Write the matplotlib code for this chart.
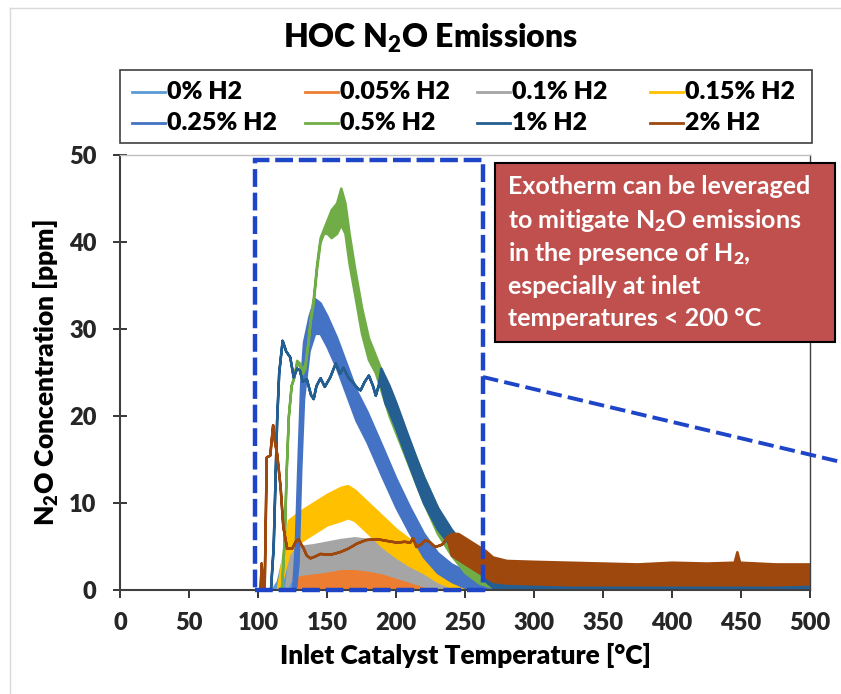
import numpy as np
import matplotlib.pyplot as plt
from matplotlib.lines import Line2D
from matplotlib.patches import Rectangle

plt.rcParams['font.family'] = ['Lato', 'DejaVu Sans']
plt.rcParams['font.weight'] = 'heavy'
plt.rcParams['mathtext.fontset'] = 'custom'
plt.rcParams['mathtext.rm'] = 'Lato:heavy'
plt.rcParams['mathtext.it'] = 'Lato:heavy'
plt.rcParams['mathtext.bf'] = 'Lato:heavy'
plt.rcParams['mathtext.default'] = 'rm'

# values: temperature [C], lower / upper edge of each trace [ppm]
# (where lo == hi the trace is a clean line, otherwise a noisy band)
t_0 = [110, 114, 117, 119, 122, 126, 130, 150, 175, 200, 225, 250, 275, 300, 350, 400, 450, 500]
lo_0 = [0, 0, 0, 0, 0, 0, 0, 0, 0, 0, 0, 0, 0, 0, 0, 0, 0, 0]
hi_0 = [0, 1.0, 3.0, 3.5, 2.5, 2.0, 1.5, 1.2, 1.2, 1.5, 1.8, 2.0, 2.0, 2.0, 2.0, 2.0, 2.0, 2.0]

t_005 = [125, 128, 132, 140, 150, 160, 170, 180, 190, 200, 210, 220, 230, 240, 260, 300, 400, 500]
lo_005 = [0, 0, 0, 0, 0, 0, 0, 0, 0, 0, 0, 0, 0, 0, 0, 0, 0, 0]
hi_005 = [0, 1.5, 2.0, 2.3, 2.4, 2.6, 2.7, 2.5, 2.1, 1.8, 1.4, 1.1, 0.8, 0.7, 0.8, 1.0, 1.0, 1.0]

t_01 = [120, 123, 130, 140, 150, 160, 170, 180, 190, 200, 210, 220, 230, 240, 260, 300, 400, 500]
lo_01 = [0, 1.0, 1.8, 2.0, 2.2, 2.5, 2.5, 2.3, 2.0, 1.5, 1.0, 0.5, 0, 0, 0, 0, 0, 0]
hi_01 = [0, 4.5, 5.0, 5.2, 5.5, 5.8, 6.0, 5.8, 5.3, 4.6, 3.6, 2.6, 1.6, 1.1, 1.0, 1.2, 1.2, 1.2]

t_015 = [114, 118, 122, 126, 130, 140, 150, 160, 165, 170, 180, 190, 200, 210, 220, 230, 240, 250, 260, 300, 400, 500]
lo_015 = [0, 1.5, 4.0, 5.0, 5.5, 6.5, 7.5, 8.0, 8.3, 8.0, 6.5, 5.0, 3.8, 2.8, 2.0, 1.0, 0.3, 0, 0, 0, 0, 0]
hi_015 = [0, 4.0, 8.0, 8.5, 9.0, 10.0, 11.0, 11.8, 12.0, 11.5, 10.0, 8.5, 7.0, 5.8, 4.5, 3.5, 2.5, 1.5, 1.2, 1.3, 1.3, 1.3]

t_025 = [125, 127, 129, 131, 133, 137, 141, 145, 150, 157, 164, 171, 179, 190, 200,
         210, 220, 230, 240, 250, 260, 270, 300, 400, 500]
lo_025 = [0, 0, 3, 14, 22, 27.5, 29.5, 29.5, 28, 25.5, 22.5, 19.5, 17, 13, 9.5,
          6.5, 3.8, 2, 1, 0.3, 0, 0, 0, 0, 0]
hi_025 = [0, 5, 15, 24, 28.5, 31.5, 33.5, 33, 31.5, 29, 26, 23, 20.5, 16.5, 12.8,
          9.5, 6.5, 4.3, 3, 2.2, 2, 1.8, 1.8, 1.8, 1.8]

t_05 = [117, 119, 120.5, 122, 124, 126, 128, 130, 132, 134, 136, 138, 140, 142.5, 145,
        147.5, 150, 153, 157, 160, 163, 166, 170, 175, 180, 185, 190, 195, 200, 210,
        220, 230, 240, 250, 260, 270, 300, 400, 500]
lo_05 = [0, 6, 14, 20, 23.5, 24.5, 26, 25.8, 24.8, 25.5, 28, 31, 33, 37, 40,
         41, 41, 40.5, 41, 42, 41, 37.5, 34, 29.5, 26.5, 25, 22.5, 20, 18, 14,
         10, 6.5, 4, 2, 0.8, 0.3, 0, 0, 0]
hi_05 = [0, 6, 14, 20, 23.5, 24.5, 26.4, 26.1, 25.3, 26, 28.4, 31.5, 33.5, 37.5, 40.5,
         41.5, 42.5, 43.7, 44.5, 46.2, 44.5, 41, 37, 32.5, 29, 27, 25, 23, 20.5, 17,
         13, 9.5, 6.5, 4, 2.5, 2, 2, 2, 2]

t_1 = [109, 111, 113.5, 115, 117.5, 120, 123, 125.5, 128, 130, 132, 135, 138, 140, 142,
       145, 148, 152, 156, 159, 161.5, 165, 169, 172, 174, 177, 180, 183, 185, 187,
       189, 192, 195, 200, 208, 215, 220, 230, 240, 250, 260, 265, 270, 300, 400, 500]
lo_1 = [0, 5, 19.5, 25, 28.7, 27.5, 26.8, 24.5, 25.5, 25.3, 24, 24.3, 22.5, 22, 23.5,
        24.4, 23.4, 24.5, 26.1, 24.9, 25.6, 24.5, 23.8, 23.2, 23, 24, 24.7, 23.5, 22.4, 23.5,
        23.5, 21.5, 20.5, 18.5, 15, 12, 10, 7, 5, 3.5, 2.5, 1, 0.3, 0, 0, 0]
hi_1 = [0, 5, 19.5, 25, 28.7, 27.5, 26.8, 24.5, 25.5, 25.3, 24, 24.3, 22.5, 22, 23.5,
        24.4, 23.4, 24.5, 26.1, 24.9, 25.6, 24.5, 23.8, 23.2, 23, 24, 24.7, 23.5, 22.4, 23.5,
        25.5, 24.5, 23.5, 21.5, 18, 15, 13, 9.5, 7, 5, 4, 3.5, 2.8, 2.8, 2.8, 2.8]

t_2 = [100, 101.5, 102.3, 103.2, 104.5, 106, 108.5, 110.6, 112, 113.5, 116, 118, 120.8, 124.4, 127,
       129, 131, 132.8, 135, 137.7, 141, 145, 152, 159, 165, 171.5, 178, 186, 193, 200.5,
       206, 210, 212, 214.5, 218, 221, 224.6, 228, 232, 234, 236.7,
       240, 245, 250, 255, 260, 265, 270, 280, 300, 325, 350, 375, 400, 425, 445, 447, 449, 475, 500]
lo_2 = [0, 0, 3.1, 0, 0.5, 15.3, 15.5, 19, 17, 15.7, 11.9, 7.3, 4.8, 4.8, 5.6,
        5.9, 5.3, 4.8, 4.0, 3.7, 3.9, 4.2, 4.1, 4.4, 4.8, 5.4, 5.8, 5.9, 5.7, 5.5,
        5.6, 5.5, 6.0, 5.0, 5.3, 5.8, 5.5, 5.0, 5.2, 5.4, 6.1,
        4.0, 3.5, 3.0, 2.5, 2.0, 1.5, 1.0, 0.8, 0.7, 0.6, 0.6, 0.6, 0.6, 0.6, 0.6, 0.6, 0.6, 0.6, 0.7]
hi_2 = [0, 0, 3.1, 0, 0.5, 15.3, 15.5, 19, 17, 15.7, 11.9, 7.3, 4.8, 4.8, 5.6,
        5.9, 5.3, 4.8, 4.0, 3.7, 3.9, 4.2, 4.1, 4.4, 4.8, 5.4, 5.8, 5.9, 5.7, 5.5,
        5.6, 5.5, 6.0, 5.0, 5.3, 5.8, 5.5, 5.0, 5.2, 5.4, 6.1,
        6.5, 6.5, 6.0, 5.5, 5.0, 4.5, 3.8, 3.4, 3.3, 3.2, 3.1, 3.0, 3.2, 3.1, 3.2, 4.4, 3.2, 3.0, 3.0]

labels = ['0% H2', '0.05% H2', '0.1% H2', '0.15% H2', '0.25% H2', '0.5% H2', '1% H2', '2% H2']
colors = ['#5B9BD5', '#ED7D31', '#A5A5A5', '#FFC000', '#4472C4', '#70AD47', '#255E91', '#9E480E']
series = [(t_0, lo_0, hi_0), (t_005, lo_005, hi_005), (t_01, lo_01, hi_01), (t_015, lo_015, hi_015),
          (t_025, lo_025, hi_025), (t_05, lo_05, hi_05), (t_1, lo_1, hi_1), (t_2, lo_2, hi_2)]

W, H = 841, 694
fig = plt.figure(figsize=(W / 100, H / 100), dpi=100)
ax = fig.add_axes([120 / W, 1 - 590 / H, 690 / W, 435 / H])

for (t, lo, hi), c in zip(series, colors):
    ax.fill_between(t, lo, hi, facecolor=c, edgecolor=c, linewidth=1.8)

ax.set_xlim(0, 500)
ax.set_ylim(0, 50)
ax.set_xticks(np.arange(0, 501, 50))
ax.set_yticks(np.arange(0, 51, 10))
ax.tick_params(axis='both', labelsize=17, colors='#262626', width=1.3)
ax.tick_params(axis='y', direction='inout', length=10, pad=12)
ax.tick_params(axis='x', direction='out', length=6, pad=10)
for tl in ax.get_xticklabels() + ax.get_yticklabels():
    tl.set_fontweight('heavy')
for side in ['left', 'bottom']:
    ax.spines[side].set_color('#404040')
    ax.spines[side].set_linewidth(1.5)
ax.spines['right'].set_color('#404040')
ax.spines['right'].set_linewidth(1)
ax.spines['top'].set_color('#BFBFBF')
ax.spines['top'].set_linewidth(1)

ax.set_xlabel('Inlet Catalyst Temperature [°C]', fontsize=19, fontweight='heavy', labelpad=6)
ax.set_ylabel('N$_2$O Concentration [ppm]', fontsize=19, fontweight='heavy', labelpad=6)

fig.text(431 / W, 1 - 38 / H, 'HOC N$_2$O Emissions', ha='center', va='center',
         fontsize=23, fontweight='heavy')

# legend, four equal columns like the original
fig.add_artist(Rectangle((120 / W, 1 - 143 / H), 692 / W, 73 / H, transform=fig.transFigure,
                         fc='white', ec='#404040', lw=1.2))
col_x = [132, 305, 477, 650]
row_y = [92, 123]
for i, (lab, c) in enumerate(zip(labels, colors)):
    x0 = col_x[i % 4]
    y0 = 1 - row_y[i // 4] / H
    fig.add_artist(Line2D([x0 / W, (x0 + 33) / W], [y0, y0], transform=fig.transFigure, color=c, lw=2))
    fig.text((x0 + 35) / W, y0, lab, ha='left', va='center', fontsize=18, fontweight='heavy')

# dashed highlight box and callout line
blue = '#1E44C8'
ax.add_patch(Rectangle((97.8, 0), 263 - 97.8, 49.4, fill=False, ec=blue, lw=3.2,
                       linestyle=(0, (4, 1.3)), clip_on=False, zorder=5))
fig.add_artist(Line2D([483 / W, 1.0], [1 - 377 / H, 1 - 462 / H], transform=fig.transFigure,
                      color=blue, lw=2.8, linestyle=(0, (4, 1.6))))

# red text box
fig.add_artist(Rectangle((495 / W, 1 - 342 / H), 340 / W, 179 / H, transform=fig.transFigure,
                         fc='#C0504D', ec='black', lw=1.5))
box_lines = ['Exotherm can be leveraged', 'to mitigate N$_2$O emissions',
             'in the presence of H$_2$,', 'especially at inlet', 'temperatures < 200 °C']
for k, line in enumerate(box_lines):
    fig.text(508 / W, 1 - (187 + 33 * k) / H, line, ha='left', va='center', fontsize=18,
             fontweight='bold', color='white')

# chart area border
fig.add_artist(Line2D([10 / W, 1.0], [1 - 8 / H, 1 - 8 / H], transform=fig.transFigure, color='#D9D9D9', lw=1))
fig.add_artist(Line2D([10 / W, 10 / W], [0, 1 - 8 / H], transform=fig.transFigure, color='#D9D9D9', lw=1))

fig.savefig('out.png', dpi=100)
